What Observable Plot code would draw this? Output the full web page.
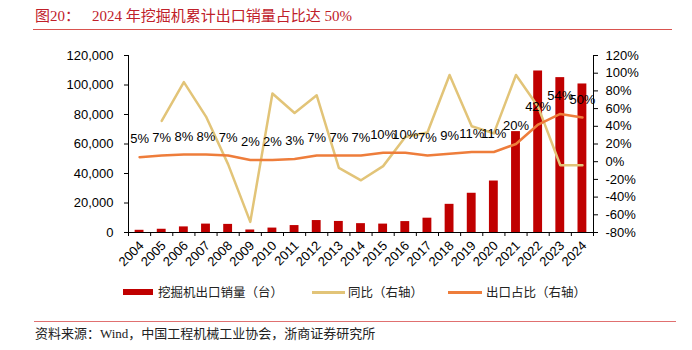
<!DOCTYPE html>
<html>
<head>
<meta charset="utf-8">
<script src="https://cdn.jsdelivr.net/npm/d3@7"></script>
<script src="https://cdn.jsdelivr.net/npm/@observablehq/plot@0.6"></script>
<style>
  html, body { margin: 0; padding: 0; background: #fff; }
  #wrap { position: relative; width: 692px; height: 350px; overflow: hidden; }
  #chart { position: absolute; left: 0; top: 0; }
  .title { position: absolute; left: 35px; top: 6px; font-family: "Liberation Serif", "Noto Sans CJK SC", serif; font-size: 15px; color: #C0202A; white-space: nowrap; line-height: 20px; }
  .hline { position: absolute; height: 1px; }
  .legend { position: absolute; top: 284px; font-family: "Noto Sans CJK SC", sans-serif; font-size: 12.5px; color: #222; white-space: nowrap; line-height: 16px; }
  .sw { position: absolute; }
  .source { position: absolute; left: 35px; top: 325px; font-family: "Liberation Serif", "Noto Sans CJK SC", serif; font-size: 13px; color: #222; white-space: nowrap; line-height: 18px; }
</style>
</head>
<body>
<div id="wrap">
  <div id="chart"></div>
  <div class="title">图20：<span style="margin-left:12px">2024 年挖掘机累计出口销量占比达 50%</span></div>
  <div class="hline" style="left:33px; width:639px; top:29px; background:#D9534F;"></div>
  <div class="sw" style="left:123px; top:289px; width:30px; height:6px; background:#C00000;"></div>
  <div class="legend" style="left:158px;">挖掘机出口销量（台）</div>
  <div class="sw" style="left:312px; top:291px; width:33px; height:3px; background:#E2C478;"></div>
  <div class="legend" style="left:348px;">同比（右轴）</div>
  <div class="sw" style="left:448px; top:291px; width:34px; height:3px; background:#EE7D3B;"></div>
  <div class="legend" style="left:486px;">出口占比（右轴）</div>
  <div class="hline" style="left:34px; width:642px; top:321px; background:#E07070;"></div>
  <div class="source">资料来源：Wind，中国工程机械工业协会，浙商证券研究所</div>
</div>
<script>
const years = [2004, 2005, 2006, 2007, 2008, 2009, 2010, 2011, 2012, 2013, 2014, 2015, 2016, 2017, 2018, 2019, 2020, 2021, 2022, 2023, 2024];
const exportUnits = [1500, 2200, 3800, 5700, 5500, 1700, 3000, 4700, 8100, 7500, 6000, 5700, 7400, 9700, 19100, 26600, 34900, 68400, 109500, 105000, 100700];
const yoyPct = [null, 46, 90, 51, -3, -68, 77, 55, 75, -7, -21, -5, 28, 33, 98, 40, 32, 98, 62, -4, -4];
const sharePct = [5, 7, 8, 8, 7, 2, 2, 3, 7, 7, 7, 10, 10, 7, 9, 11, 11, 20, 42, 54, 50];
const leftTicks = [0, 20000, 40000, 60000, 80000, 100000, 120000];
const rightTicks = [-80, -60, -40, -20, 0, 20, 40, 60, 80, 100, 120];

const rows = years.map((year, i) => ({year, units: exportUnits[i], yoy: yoyPct[i], share: sharePct[i]}));
// map right-axis percent (-80..120) onto left-axis units (0..120000)
const toLeft = p => (p + 80) * 600;
const boundaries = years.map(y => y - 0.5).concat([years[years.length - 1] + 0.5]);

const chart = Plot.plot({
  width: 692,
  height: 350,
  marginTop: 55,
  marginBottom: 118,
  marginLeft: 128,
  marginRight: 99,
  x: {type: "linear", domain: [boundaries[0], boundaries[boundaries.length - 1]]},
  y: {domain: [0, 120000]},
  style: {fontFamily: "'Liberation Sans', Arial, sans-serif", fontSize: "13px", color: "#000", background: "transparent", overflow: "visible"},
  marks: [
    Plot.rectY(rows, {x1: d => d.year - 0.2, x2: d => d.year + 0.2, y: "units", fill: "#C00000"}),
    Plot.lineY(rows.filter(d => d.yoy != null), {x: "year", y: d => toLeft(d.yoy), stroke: "#E2C478", strokeWidth: 2.5}),
    Plot.lineY(rows, {x: "year", y: d => toLeft(d.share), stroke: "#EE7D3B", strokeWidth: 2.5}),
    Plot.text(rows, {x: "year", y: d => toLeft(d.share), text: d => d.share + "%", dy: -18, fontSize: 13, fill: "#000"}),
    Plot.ruleY([0], {stroke: "#000"}),
    Plot.ruleX([boundaries[0]], {stroke: "#000"}),
    Plot.ruleX([boundaries[boundaries.length - 1]], {stroke: "#000"}),
    Plot.axisY({anchor: "left", ticks: leftTicks, tickFormat: d3.format(","), tickSize: 4, tickPadding: 11, label: null}),
    Plot.axisY({anchor: "right", ticks: rightTicks.map(toLeft), tickFormat: v => `${Math.round(v / 600 - 80)}%`, tickSize: 4, tickPadding: 8, label: null}),
    Plot.axisX({ticks: boundaries, tickFormat: () => "", tickSize: 4, label: null}),
    Plot.axisX({ticks: years, tickFormat: d => String(d), tickSize: 0, tickRotate: -45, tickPadding: 11, dx: 2, label: null})
  ]
});
document.getElementById("chart").appendChild(chart);
</script>
</body>
</html>
